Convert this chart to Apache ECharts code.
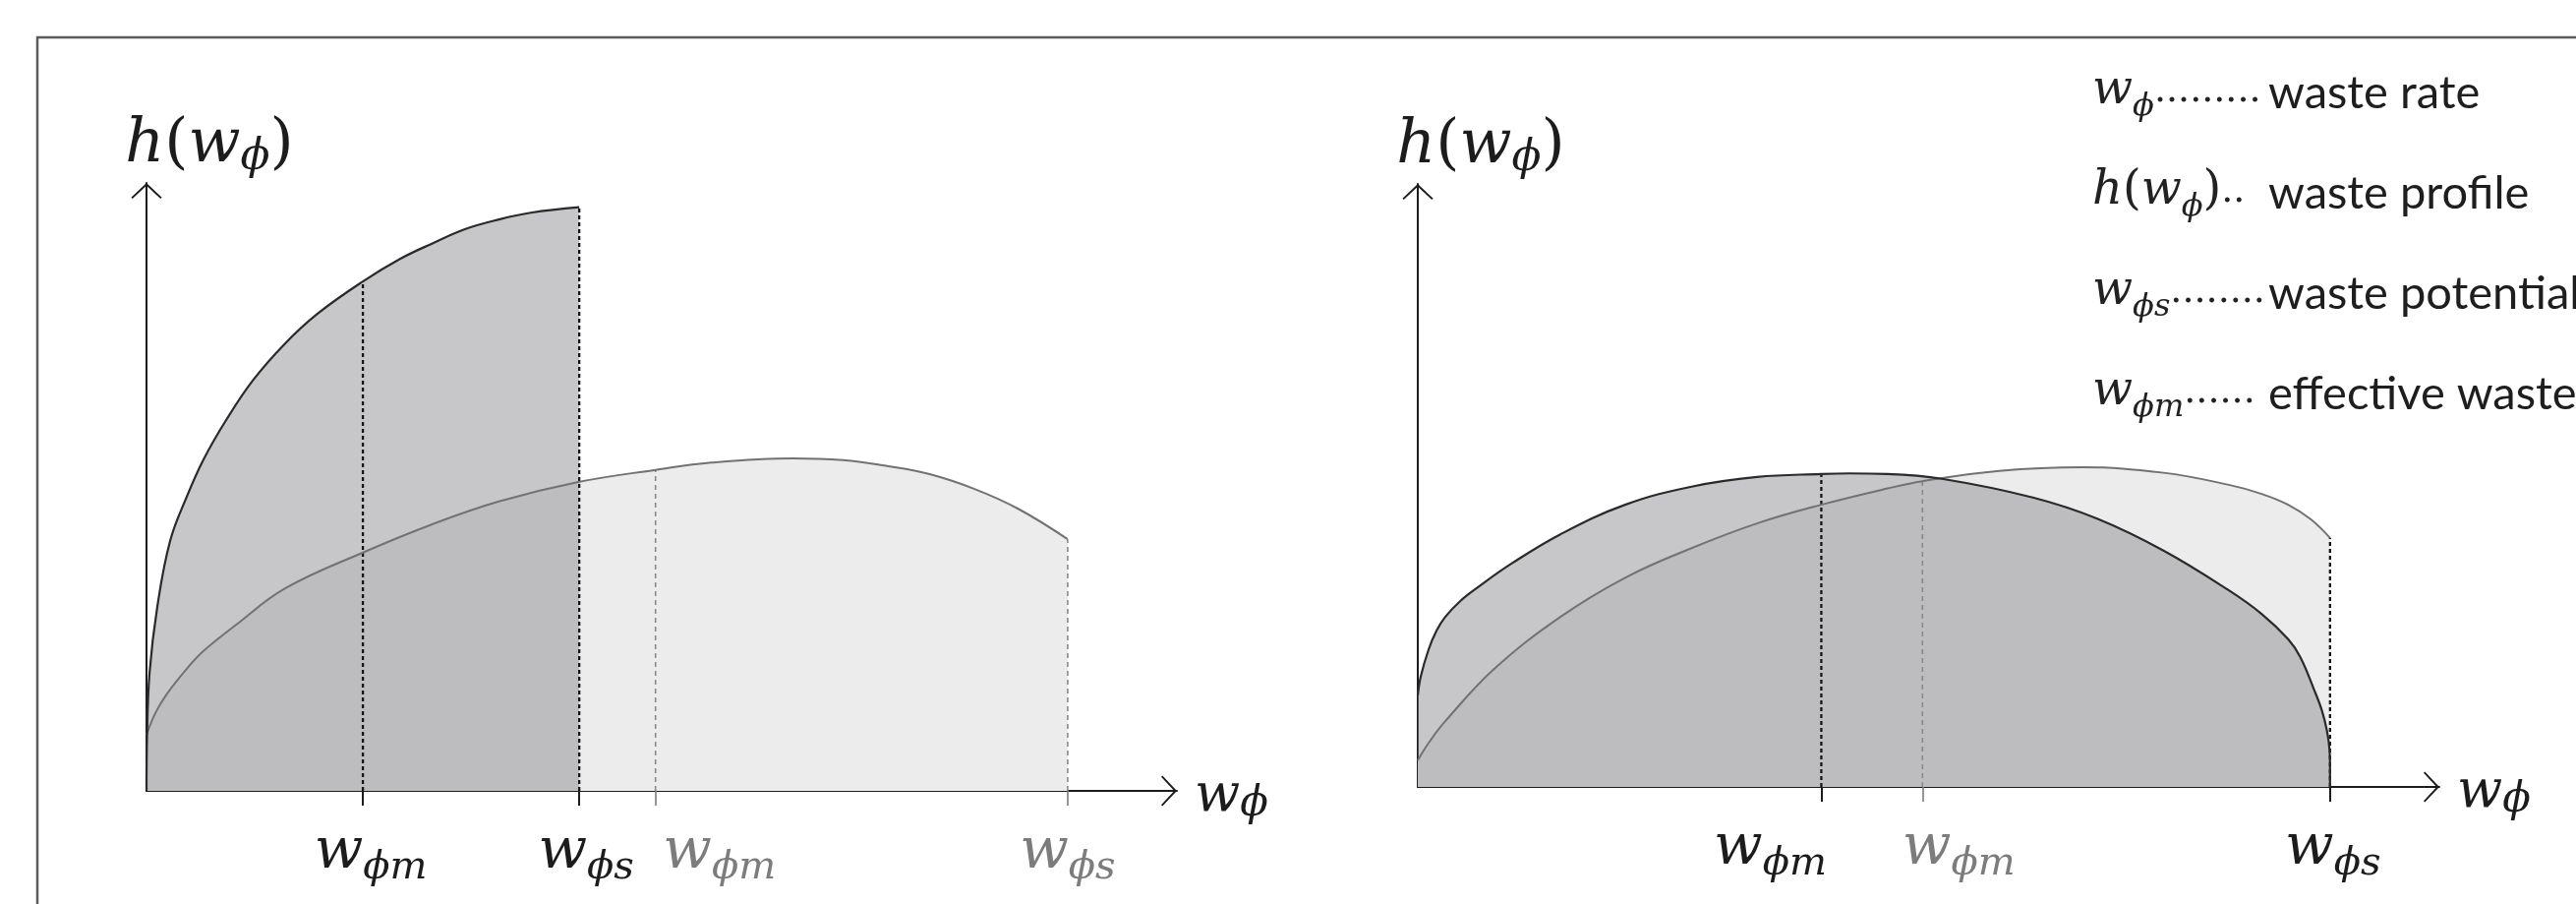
<!DOCTYPE html>
<html>
<head>
<meta charset="utf-8">
<script src="https://cdn.jsdelivr.net/npm/echarts@6/dist/echarts.min.js"></script>
<style>
html,body{margin:0;padding:0;background:#ffffff;}
#c{width:2620px;height:919px;}
</style>
</head>
<body>
<div id="c"></div>
<script>
// ---------- data (axis units 0..100) ----------
// Left panel: dark profile (short, steep) and light profile (long, flat)
const leftDarkX  = [0, 0.05, 0.3, 1.05, 2.29, 3.91, 5.53, 7.73, 10.31, 13.45, 16.6, 21.0, 24.6, 27.8, 30.9, 34.2, 37.3, 42.0];
const leftDarkY  = [0, 8.7, 19.5, 30.3, 41.1, 48.4, 54.5, 61.0, 67.5, 73.6, 78.5, 83.8, 87.5, 90.1, 92.4, 94.0, 95.1, 96.0];
const leftLightX = [0, 0.86, 2.0, 3.91, 5.53, 8.68, 13.45, 21.0, 27.8, 34.2, 41.9, 49.4, 54.8, 62.7, 67.6, 72.0, 76.0, 80.3, 84.6, 89.4];
const leftLightY = [9.2, 12.8, 16.0, 20.1, 23.0, 27.3, 33.3, 39.2, 43.9, 47.6, 50.8, 52.8, 54.0, 54.7, 54.4, 53.4, 52.1, 49.7, 46.4, 41.4];

// Right panel
const rightDarkX  = [0, 0.29, 1.06, 1.83, 2.69, 4.14, 5.87, 9.14, 13.96, 20.3, 26.8, 33.2, 39.5, 42.2, 46.0, 51.3, 60.2, 66.5, 73.0, 79.4, 82.6, 85.2, 86.4, 87.7, 88.5, 89.0, 89.25, 89.3, 89.3];
const rightDarkY  = [15.2, 18.3, 22.8, 25.9, 28.2, 30.8, 33.1, 37.0, 41.9, 46.8, 49.8, 51.4, 51.9, 52.0, 51.9, 51.1, 48.0, 44.5, 39.2, 32.6, 28.7, 24.5, 21.5, 16.3, 12.7, 9.3, 6.2, 3.3, 0];
const rightLightX = [0, 1.06, 2.69, 7.5, 13.96, 20.3, 26.8, 33.2, 39.5, 46.0, 49.4, 56.9, 65.0, 73.0, 79.4, 82.6, 85.2, 87.4, 89.3];
const rightLightY = [4.4, 7.3, 10.9, 19.6, 28.2, 34.7, 39.6, 43.7, 46.8, 49.5, 50.7, 52.4, 53.0, 52.1, 50.1, 48.6, 46.8, 44.4, 41.3];

// Tick marks (position, subscript name, height of the dashed guide)
const leftTicksDark       = [21.0, 42.0];
const leftTicksDarkNames  = ['m', 's'];
const leftTicksDarkTop    = [83.8, 96.0];
const leftTicksLight      = [49.4, 89.4];
const leftTicksLightNames = ['m', 's'];
const leftTicksLightTop   = [52.8, 41.4];

const rightTicksDark       = [39.5, 89.3];
const rightTicksDarkNames  = ['m', 's'];
const rightTicksDarkTop    = [51.9, 41.3];
const rightTicksLight      = [49.4];
const rightTicksLightNames = ['m'];
const rightTicksLightTop   = [50.7];

// Glossary
const glossaryHead    = ['', 'h', '', ''];
const glossaryBase    = ['w', 'w', 'w', 'w'];
const glossarySub     = ['ϕ', 'ϕ', 'ϕs', 'ϕm'];
const glossaryDots    = ['.........', '..', '........', '......'];
const glossaryMeaning = ['waste rate', 'waste profile', 'waste potential', 'effective waste'];

// ---------- styles ----------
const MATH = 'DejaVu Serif';
const TEXT = 'Lato';
const DARK = '#1c1c1c';
const LIGHTTXT = '#7c7c7c';
const ARROW = 'path://M16,0 L32,15 L30.6,16.4 L16,2.8 L1.4,16.4 L0,15 Z';

function zip(xs, ys) { return xs.map((x, i) => [x, ys[i]]); }

function xAxisCfg(gridIndex, ticks, names, color, shifts, withLine) {
  const rich = {};
  ticks.forEach((t, i) => {
    const sh = shifts[i] || 0;
    rich['w' + i] = {fontFamily: MATH, fontStyle: 'italic', fontSize: 58, color: color,
                     padding: [0, 0, 0, sh > 0 ? 2 * sh : 0]};
    rich['s' + i] = {fontFamily: MATH, fontStyle: 'italic', fontSize: 40, color: color,
                     padding: [32, sh < 0 ? -2 * sh : 0, 0, 0]};
  });
  const cfg = {
    type: 'value', gridIndex: gridIndex, min: 0, max: 100, position: 'bottom',
    axisLine: withLine ? {
      show: true, onZero: false,
      lineStyle: {color: DARK, width: 2},
      symbol: ['none', ARROW], symbolSize: [32, 16], symbolOffset: [0, -8]
    } : {show: false},
    axisTick: {show: true, customValues: ticks, length: 15, inside: false,
               lineStyle: {color: color, width: withLine ? 2 : 1.6}},
    axisLabel: {show: true, customValues: ticks, margin: 27, rich: rich,
      formatter: function (v) {
        let i = ticks.indexOf(v);
        if (i < 0) { i = 0; let best = 1e9; ticks.forEach((t, k) => { if (Math.abs(t - v) < best) { best = Math.abs(t - v); i = k; } }); }
        return '{w' + i + '|w}{s' + i + '|ϕ' + names[i] + '}';
      }},
    splitLine: {show: false}
  };
  if (withLine) {
    cfg.name = '{w|w}{s|ϕ}';
    cfg.nameLocation = 'end';
    cfg.nameGap = 18;
    cfg.nameTextStyle = {padding: [12, 0, 0, 0], rich: {
      w: {fontFamily: MATH, fontStyle: 'italic', fontSize: 54, color: DARK},
      s: {fontFamily: MATH, fontStyle: 'italic', fontSize: 42, color: DARK, padding: [16, 0, 0, 0]}
    }};
  }
  return cfg;
}

function yAxisCfg(gridIndex) {
  return {
    type: 'value', gridIndex: gridIndex, min: 0, max: 100,
    axisLine: {show: true, onZero: false, lineStyle: {color: DARK, width: 2},
      symbol: ['none', ARROW], symbolSize: [32, 16], symbolOffset: [0, -8]},
    axisTick: {show: false}, axisLabel: {show: false}, splitLine: {show: false},
    name: '{w|h}{p|(}{w|w}{s|ϕ}{p|)}', nameLocation: 'end', nameGap: 3,
    nameTextStyle: {align: 'center', padding: [0, 0, 0, 128], rich: {
      w: {fontFamily: MATH, fontStyle: 'italic', fontSize: 62, color: DARK},
      p: {fontFamily: MATH, fontSize: 62, color: DARK},
      s: {fontFamily: MATH, fontStyle: 'italic', fontSize: 44, color: DARK, padding: [26, 0, 0, 0]}
    }}
  };
}

function areaSeries(xi, yi, xs, ys, color, opacity) {
  return {type: 'line', xAxisIndex: xi, yAxisIndex: yi, data: zip(xs, ys),
    smooth: 0.4, showSymbol: false, symbol: 'none', silent: true,
    lineStyle: {width: 0, opacity: 0}, areaStyle: {color: color, opacity: opacity, origin: 'start'}};
}
function curveSeries(xi, yi, xs, ys, color, width) {
  return {type: 'line', xAxisIndex: xi, yAxisIndex: yi, data: zip(xs, ys),
    smooth: 0.4, showSymbol: false, symbol: 'none', silent: true,
    lineStyle: {color: color, width: width}};
}
function guideSeries(xi, yi, ticks, tops, color, width, dash) {
  return ticks.map((t, i) => ({type: 'line', xAxisIndex: xi, yAxisIndex: yi,
    data: [[t, 0], [t, tops[i]]], showSymbol: false, symbol: 'none', silent: true,
    lineStyle: {color: color, width: width, type: dash}}));
}

// glossary text
const mathLines = glossaryBase.map((b, i) => {
  let s = '';
  if (glossaryHead[i]) s += '{m|' + glossaryHead[i] + '}{p|(}';
  s += '{m|' + b + '}{sub|' + glossarySub[i] + '}';
  if (glossaryHead[i]) s += '{p|)}';
  s += '{d|' + glossaryDots[i] + '}';
  return s;
});

const chart = echarts.init(document.getElementById('c'), null, {renderer: 'canvas', width: 2620, height: 919});

const option = {
  backgroundColor: '#ffffff',
  animation: false,
  graphic: [{
    type: 'polyline', silent: true, z: 100,
    shape: {points: [[38, 919], [38, 38], [2620, 38]]},
    style: {stroke: '#5c5c5c', lineWidth: 2.5, fill: null}
  }],
  title: [
    {left: 2128, top: 42, padding: 0, text: mathLines.join('\n'),
     textStyle: {fontWeight: 'normal', rich: {
       m:   {fontFamily: MATH, fontStyle: 'italic', fontWeight: 'normal', fontSize: 48, lineHeight: 102, color: '#222'},
       p:   {fontFamily: MATH, fontWeight: 'normal', fontSize: 48, lineHeight: 102, color: '#222'},
       sub: {fontFamily: MATH, fontStyle: 'italic', fontWeight: 'normal', fontSize: 32, lineHeight: 71, padding: [31, 0, 0, 0], color: '#222'},
       d:   {fontFamily: MATH, fontWeight: 'normal', fontSize: 38, lineHeight: 102, color: '#222'}
     }}},
    {left: 2307, top: 44, padding: 0, text: glossaryMeaning.join('\n'),
     textStyle: {fontFamily: TEXT, fontWeight: 'normal', fontSize: 47, lineHeight: 102, color: '#1e1e1e'}}
  ],
  grid: [
    {left: 149, right: 2620 - 1197, top: 186, bottom: 919 - 804, containLabel: false},
    {left: 1442, right: 2620 - 2481, top: 187, bottom: 919 - 800, containLabel: false}
  ],
  xAxis: [
    xAxisCfg(0, leftTicksDark, leftTicksDarkNames, DARK, [8, 7], true),
    xAxisCfg(0, leftTicksLight, leftTicksLightNames, LIGHTTXT, [65, 0], false),
    xAxisCfg(1, rightTicksDark, rightTicksDarkNames, DARK, [-52, 3], true),
    xAxisCfg(1, rightTicksLight, rightTicksLightNames, LIGHTTXT, [37], false)
  ],
  yAxis: [yAxisCfg(0), yAxisCfg(1)],
  series: [].concat(
    [areaSeries(0, 0, leftLightX, leftLightY, '#ececed', 1),
     areaSeries(0, 0, leftDarkX, leftDarkY, 'rgb(136,137,142)', 0.47),
     areaSeries(2, 1, rightLightX, rightLightY, '#ececed', 1),
     areaSeries(2, 1, rightDarkX, rightDarkY, 'rgb(136,137,142)', 0.47)],
    guideSeries(0, 0, leftTicksDark, leftTicksDarkTop, '#161616', 2.3, [4, 3]),
    guideSeries(0, 0, leftTicksLight, leftTicksLightTop, '#8a8a8a', 1.6, [5, 4]),
    guideSeries(2, 1, rightTicksDark, rightTicksDarkTop, '#161616', 2.3, [4, 3]),
    guideSeries(2, 1, rightTicksLight, rightTicksLightTop, '#8a8a8a', 1.6, [5, 4]),
    [curveSeries(0, 0, leftLightX, leftLightY, '#727272', 2),
     curveSeries(0, 0, leftDarkX, leftDarkY, '#2a2a2a', 2.2),
     curveSeries(2, 1, rightLightX, rightLightY, '#727272', 2),
     curveSeries(2, 1, rightDarkX, rightDarkY, '#2a2a2a', 2.2)]
  )
};
chart.setOption(option);
</script>
</body>
</html>
